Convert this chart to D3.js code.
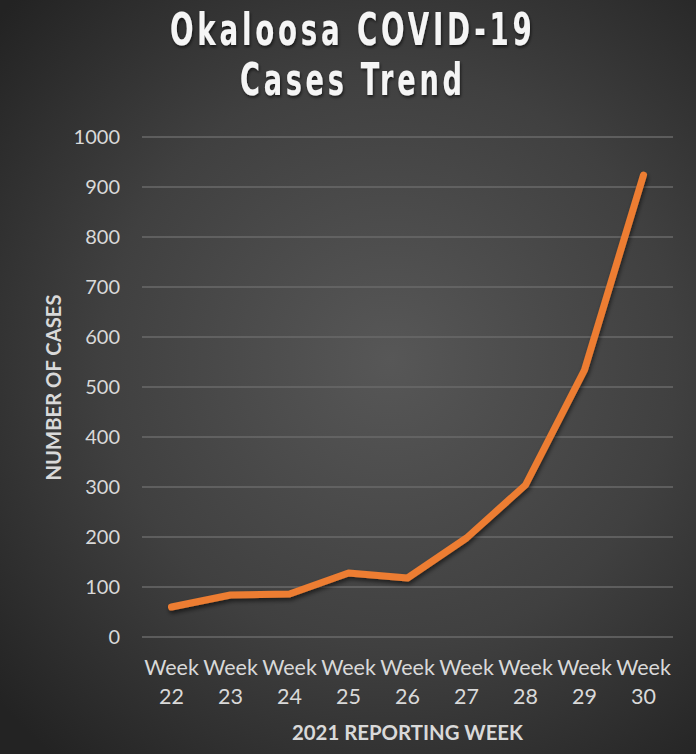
<!DOCTYPE html>
<html><head><meta charset="utf-8">
<script src="https://cdn.jsdelivr.net/npm/d3@7"></script>
<style>html,body{margin:0;padding:0;background:#fff;}svg{display:block;}</style>
</head><body>
<script>
const weeks = ["Week 22","Week 23","Week 24","Week 25","Week 26","Week 27","Week 28","Week 29","Week 30"];
const cases = [60, 84, 86, 128, 118, 198, 304, 534, 924];
const yTicks = [0,100,200,300,400,500,600,700,800,900,1000];
const titleLines = ["Okaloosa COVID-19","Cases Trend"];
const xTitle = "2021 REPORTING WEEK";
const yTitle = "NUMBER OF CASES";

const W = 696, H = 754;
const m = {left:142, right:23, top:137, bottom:117};
const svg = d3.select("body").append("svg").attr("width",W).attr("height",H);
const defs = svg.append("defs");
const rg = defs.append("radialGradient").attr("id","bg").attr("gradientUnits","userSpaceOnUse")
  .attr("cx",390).attr("cy",360).attr("r",520);
rg.append("stop").attr("offset","0").attr("stop-color","#575757");
rg.append("stop").attr("offset","0.55").attr("stop-color","#404040");
rg.append("stop").attr("offset","1").attr("stop-color","#232323");
const sh = defs.append("filter").attr("id","sh").attr("x","-10%").attr("y","-10%").attr("width","120%").attr("height","130%");
sh.append("feDropShadow").attr("dx",1).attr("dy",3).attr("stdDeviation",2).attr("flood-color","#000").attr("flood-opacity",0.55);
const tsh = defs.append("filter").attr("id","tsh").attr("x","-10%").attr("y","-20%").attr("width","120%").attr("height","150%");
tsh.append("feDropShadow").attr("dx",1).attr("dy",2).attr("stdDeviation",1.5).attr("flood-color","#000").attr("flood-opacity",0.6);

svg.append("rect").attr("width",W).attr("height",H).attr("fill","url(#bg)");

const x = d3.scaleBand().domain(weeks).range([m.left, W-m.right]);
const y = d3.scaleLinear().domain([0,1000]).range([H-m.bottom, m.top]);

const FONT = "Lato, 'Open Sans', sans-serif";

// gridlines
svg.append("g").selectAll("line").data(yTicks).join("line")
  .attr("x1",m.left).attr("x2",W-m.right)
  .attr("y1",d=>y(d)).attr("y2",d=>y(d))
  .attr("stroke","#6a6a6a").attr("stroke-width",1.3);

// y axis labels
const yAxis = d3.axisLeft(y).tickValues(yTicks).tickFormat(d3.format("d")).tickSize(0).tickPadding(0);
const gy = svg.append("g").attr("transform",`translate(${m.left-22},0)`).call(yAxis);
gy.select(".domain").remove();
gy.selectAll("text").attr("fill","#d9d9d9").attr("font-family",FONT).attr("font-size",20);

// x axis labels
const xAxis = d3.axisBottom(x).tickSize(0).tickPadding(0);
const gx = svg.append("g").attr("transform",`translate(0,${H-m.bottom})`).call(xAxis);
gx.select(".domain").remove();
gx.selectAll("text").each(function(d){
  const t = d3.select(this); const parts = d.split(" ");
  t.text(null).attr("y",0).attr("dy",null)
   .attr("fill","#d9d9d9").attr("font-family",FONT).attr("font-size",21.5);
  t.append("tspan").attr("x",0).attr("y",38).text(parts[0]);
  t.append("tspan").attr("x",0).attr("y",67).text(parts[1]);
});

// line
const line = d3.line().x((d,i)=>x(weeks[i])+x.bandwidth()/2).y(d=>y(d)).curve(d3.curveLinear);
svg.append("path").datum(cases).attr("d",line).attr("fill","none")
  .attr("stroke","#ED7D31").attr("stroke-width",7).attr("stroke-linejoin","round").attr("stroke-linecap","round")
  .attr("filter","url(#sh)");

// axis titles
svg.append("text").attr("x",(m.left+W-m.right)/2).attr("y",740).attr("text-anchor","middle")
  .attr("fill","#d9d9d9").attr("font-family",FONT).attr("font-weight","bold").attr("font-size",21)
  .attr("textLength",231).attr("lengthAdjust","spacingAndGlyphs")
  .text(xTitle);
svg.append("text").attr("transform","translate(61,387.5) rotate(-90)").attr("text-anchor","middle")
  .attr("fill","#d9d9d9").attr("font-family",FONT).attr("font-weight","bold").attr("font-size",21)
  .attr("textLength",186).attr("lengthAdjust","spacingAndGlyphs")
  .text(yTitle);

// title (condensed by horizontal scaling, with wide letter spacing)
const titleLens = [362, 222];
const tg = svg.append("g").attr("filter","url(#tsh)");
titleLines.forEach((s,i)=>{
  const t = tg.append("text").attr("x",0).attr("y",0)
    .attr("fill","#f5f5f5").attr("font-family","'DejaVu Sans', sans-serif")
    .attr("font-weight","bold").attr("font-size",44).attr("letter-spacing",6)
    .text(s);
  const bb = t.node().getBBox();
  const visW = bb.width - 6; // drop trailing letter spacing
  const sx = titleLens[i] / visW;
  t.attr("transform",`translate(${351 - titleLens[i]/2},${45+i*50}) scale(${sx},1)`);
});
</script>
</body></html>
